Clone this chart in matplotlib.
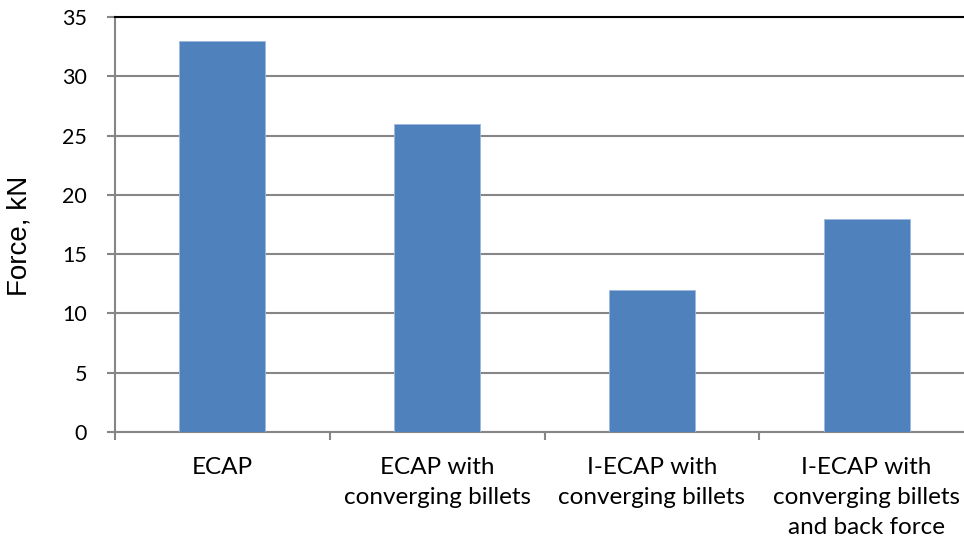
import matplotlib
matplotlib.use("Agg")
import matplotlib.pyplot as plt
import numpy as np

categories = ["ECAP", "ECAP with\nconverging billets", "I-ECAP with\nconverging billets",
              "I-ECAP with\nconverging billets\nand back force"]
force = [33, 26, 12, 18]
yticks = [0, 5, 10, 15, 20, 25, 30, 35]

plt.rcParams['font.family'] = ['Lato', 'DejaVu Sans']

fig = plt.figure(figsize=(9.64, 5.42), dpi=100)
ax = fig.add_axes([115/964, 1-432/542, (974-115)/964, (432-17)/542])

x = np.arange(len(categories))
ax.bar(x, force, width=0.40, color='#4F81BD', edgecolor='#9DB9DE', linewidth=0.6, zorder=3)

ax.set_xlim(-0.5, len(categories) - 0.5)
ax.set_ylim(0, 35)
ax.set_yticks(yticks)
ax.set_yticklabels([str(v) for v in yticks], fontsize=15.5)
ax.set_xticks(x)
ax.set_xticklabels(categories, fontsize=17.5, linespacing=1.52)
ax.tick_params(axis='x', length=0, pad=18)
ax.tick_params(axis='y', length=6, width=1.5, color='#868686', pad=14, direction='out')
ax.set_xticks(np.arange(-0.5, len(categories)), minor=True)
ax.tick_params(axis='x', which='minor', length=6, width=1.5, color='#868686', direction='out')

ax.yaxis.grid(True, color='#868686', linewidth=1.5, zorder=0)
ax.set_axisbelow(True)
ax.spines['right'].set_visible(False)
ax.spines['top'].set_color('black')
ax.spines['top'].set_linewidth(1.5)
ax.spines['left'].set_color('#868686')
ax.spines['left'].set_linewidth(1.5)
ax.spines['bottom'].set_color('#868686')
ax.spines['bottom'].set_linewidth(1.5)

ax.set_ylabel("Force, kN", fontsize=20, family=['Liberation Sans', 'DejaVu Sans'])
ax.yaxis.set_label_coords((33 - 115) / 859, 0.472)

fig.savefig("out.png", dpi=100)
